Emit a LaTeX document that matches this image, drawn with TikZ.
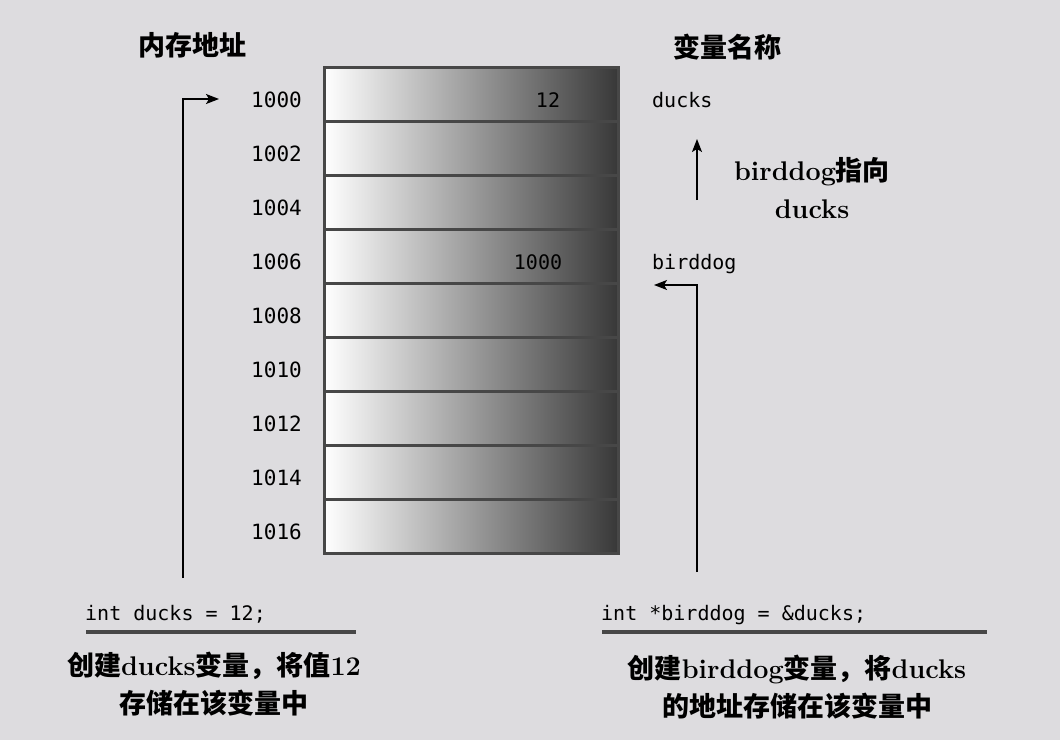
\documentclass[tikz,border=0pt]{standalone}
\usepackage{fontspec}
\setmonofont{DejaVu Sans Mono}
\newfontfamily\zhfont{Noto Sans CJK SC}
\usetikzlibrary{arrows.meta}
\definecolor{paper}{HTML}{DDDCDF}
\definecolor{cellline}{HTML}{474747}
\newcommand{\zh}[1]{{\zhfont #1}}
\tikzset{
  cell/.style={draw=cellline, line width=3pt, minimum width=294pt, minimum height=54.1pt,
    inner sep=0pt, left color=white, right color=black!78},
  addr/.style={font=\ttfamily\fontsize{21}{25}\selectfont, anchor=base east, inner sep=0pt},
  code/.style={font=\ttfamily\fontsize{20}{24}\selectfont, inner sep=0pt},
  note/.style={font=\bfseries\fontsize{27}{38}\selectfont, align=center},
  ptr/.style={-{Stealth[length=13pt,width=10pt,inset=3pt]}, line width=1.4pt},
  rule/.style={draw=cellline, line width=3.5pt},
}
\begin{document}
\begin{tikzpicture}[x=1pt,y=-1pt]
    \fill[paper] (0,0) rectangle (1060,740);
    \useasboundingbox (0,0) rectangle (1060,740);
    % Headings
    \node[note] (AddrHead) at (192,45) {\zh{内存地址}};
    \node[note] (NameHead) at (727,47) {\zh{变量名称}};
    % Memory cells
    \foreach \a [count=\i from 0] in {1000,1002,...,1016} {
        \node[cell] (Cell-\i) at (471,{94.05+54.1*\i}) {};
        \node[addr] (Addr-\i) at (302,{107+54.1*\i}) {\a};
    }
    % Values and names
    \node[code, anchor=base] (Val-0) at (548,107) {12};
    \node[code, anchor=base] (Val-3) at (538,269.3) {1000};
    \node[code, anchor=base west] (Var-0) at (652,107) {ducks};
    \node[code, anchor=base west] (Var-3) at (652,269.3) {birddog};
    % Pointer note
    \coordinate (PtrFoot) at (697,200);
    \coordinate (PtrTip) at (697,139);
    \draw[ptr] (PtrFoot) -- (PtrTip);
    \node[note] (PtrNote) at (812,188) {birddog\zh{指向}\\ducks};
    % Left statement
    \node[code, anchor=base west] (DucksCode) at (85,620) {int ducks = 12;};
    \draw[rule] (86,632) -- (356,632);
    \node[note] (DucksNote) at (214,684) {\zh{创建}ducks\zh{变量，将值}12\\\zh{存储在该变量中}};
    % Right statement
    \node[code, anchor=base west] (BirdCode) at (601,620) {int *birddog = \&ducks;};
    \draw[rule] (602,632) -- (987,632);
    \node[note] (BirdNote) at (797,687) {\zh{创建}birddog\zh{变量，将}ducks\\\zh{的地址存储在该变量中}};
    % Arrows
    \coordinate (DucksFoot) at (183,578);
    \coordinate (DucksTip) at (219,99);
    \draw[ptr] (DucksFoot) |- (DucksTip);
    \coordinate (BirdFoot) at (697,572);
    \coordinate (BirdTip) at (654,285);
    \draw[ptr] (BirdFoot) |- (BirdTip);
\end{tikzpicture}
\end{document}
